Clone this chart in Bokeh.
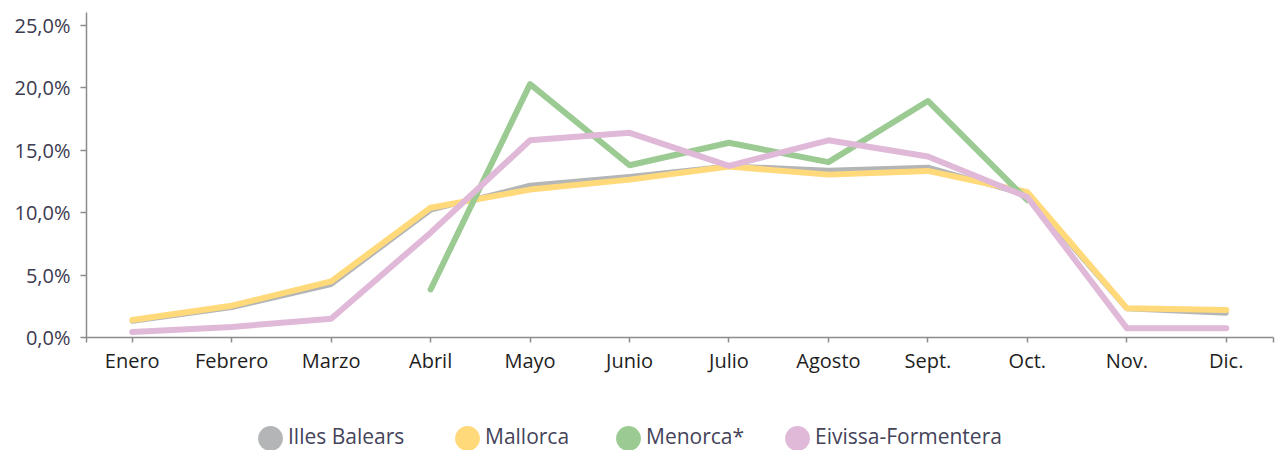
import math
from bokeh.plotting import figure
from bokeh.layouts import column
from bokeh.models import Range1d, FixedTicker, CustomJSTickFormatter, Legend, LegendItem
from bokeh.core.properties import value
from bokeh.embed import file_html
from bokeh.resources import INLINE

months = ["Enero", "Febrero", "Marzo", "Abril", "Mayo", "Junio", "Julio",
          "Agosto", "Sept.", "Oct.", "Nov.", "Dic."]
illes_balears = [1.3, 2.4, 4.25, 10.2, 12.2, 12.9, 13.75, 13.4, 13.65, 11.4, 2.3, 1.95]
mallorca = [1.4, 2.55, 4.5, 10.4, 11.85, 12.65, 13.7, 13.05, 13.35, 11.65, 2.35, 2.2]
menorca = [math.nan, math.nan, math.nan, 3.85, 20.3, 13.8, 15.6, 14.05, 18.95, 11.0, math.nan, math.nan]
eivissa_formentera = [0.45, 0.85, 1.5, 8.4, 15.8, 16.4, 13.75, 15.8, 14.5, 11.25, 0.75, 0.75]
y_ticks = [0, 5, 10, 15, 20, 25]

series_names = ["Illes Balears", "Mallorca", "Menorca*", "Eivissa-Formentera"]
series_values = [illes_balears, mallorca, menorca, eivissa_formentera]
colors = ["#B3B5B7", "#FFD97A", "#9BCB93", "#E0B9D9"]
widths = [5, 6, 6, 6]

FONT = "Open Sans"
W = 1279

p = figure(width=W, height=410, output_backend="svg", toolbar_location=None,
           x_range=Range1d(-0.46, 11.475), y_range=Range1d(0, 26.04),
           min_border_left=86, min_border_right=6, min_border_top=12, min_border_bottom=73)
p.outline_line_color = None
p.xgrid.grid_line_color = None
p.ygrid.grid_line_color = None
p.background_fill_color = "white"
p.border_fill_color = "white"

xs = list(range(len(months)))
for vals, c, w in zip(series_values, colors, widths):
    p.line(xs, vals, line_color=c, line_width=w, line_cap="round", line_join="round")

# Axes
xa = p.xaxis[0]
xa.ticker = FixedTicker(ticks=[-0.46] + xs + [11.475])
xa.formatter = CustomJSTickFormatter(args=dict(labels=months), code="""
    const i = Math.round(tick);
    if (Math.abs(tick - i) < 1e-6 && i >= 0 && i < labels.length) return labels[i];
    return '';
""")
xa.axis_line_color = "#8C8C8C"
xa.axis_line_width = 1.5
xa.major_tick_line_color = "#8C8C8C"
xa.major_tick_line_width = 1.5
xa.major_tick_out = 5
xa.major_tick_in = 0
xa.minor_tick_line_color = None
xa.major_label_text_font = FONT
xa.major_label_text_font_size = "20px"
xa.major_label_text_color = "#1E1E1E"
xa.major_label_standoff = 4

ya = p.yaxis[0]
ya.ticker = FixedTicker(ticks=y_ticks)
ya.formatter = CustomJSTickFormatter(code="return tick.toFixed(1).replace('.', ',') + '%';")
ya.axis_line_color = "#8C8C8C"
ya.axis_line_width = 1.5
ya.major_tick_line_color = "#8C8C8C"
ya.major_tick_line_width = 1.5
ya.major_tick_out = 6
ya.major_tick_in = 0
ya.minor_tick_line_color = None
ya.major_label_text_font = FONT
ya.major_label_text_font_size = "20px"
ya.major_label_text_color = "#3B3A50"
ya.major_label_standoff = 10

# Legend strip below the chart (its frame is aligned with the chart frame, left = 86px)
lf = figure(width=W, height=40, output_backend="svg", toolbar_location=None,
            x_axis_location=None, y_axis_location=None,
            x_range=Range1d(0, W), y_range=Range1d(0, 40),
            min_border_left=0, min_border_right=0, min_border_top=0, min_border_bottom=0)
lf.grid.visible = False
lf.outline_line_color = None
lf.background_fill_color = "white"
lf.border_fill_color = "white"

FRAME_LEFT = 86
marker_centers = [270, 467, 628, 797]
label_gap = 18
common = dict(orientation="horizontal", padding=0, margin=0, border_line_color=None,
              background_fill_alpha=0, label_text_font=FONT,
              label_text_font_size="21px", label_text_color="#44435A")
for name, c, cx in zip(series_names, colors, marker_centers):
    # coloured circle marker
    r = lf.scatter(x=[math.nan], y=[math.nan], marker="circle", fill_color=c, line_color=None)
    lf.add_layout(Legend(items=[LegendItem(label=value(""), renderers=[r])],
                         location=(cx - FRAME_LEFT - 31, -19),
                         glyph_width=62, glyph_height=62, label_standoff=0, **common))
    # label text
    rt = lf.scatter(x=[math.nan], y=[math.nan], marker="circle", fill_alpha=0, line_alpha=0)
    lf.add_layout(Legend(items=[LegendItem(label=value(name), renderers=[rt])],
                         location=(cx + label_gap - FRAME_LEFT - 1, 0),
                         glyph_width=1, glyph_height=27, label_standoff=0, **common))

open("out.html", "w").write(file_html(column(p, lf, spacing=0), INLINE))
